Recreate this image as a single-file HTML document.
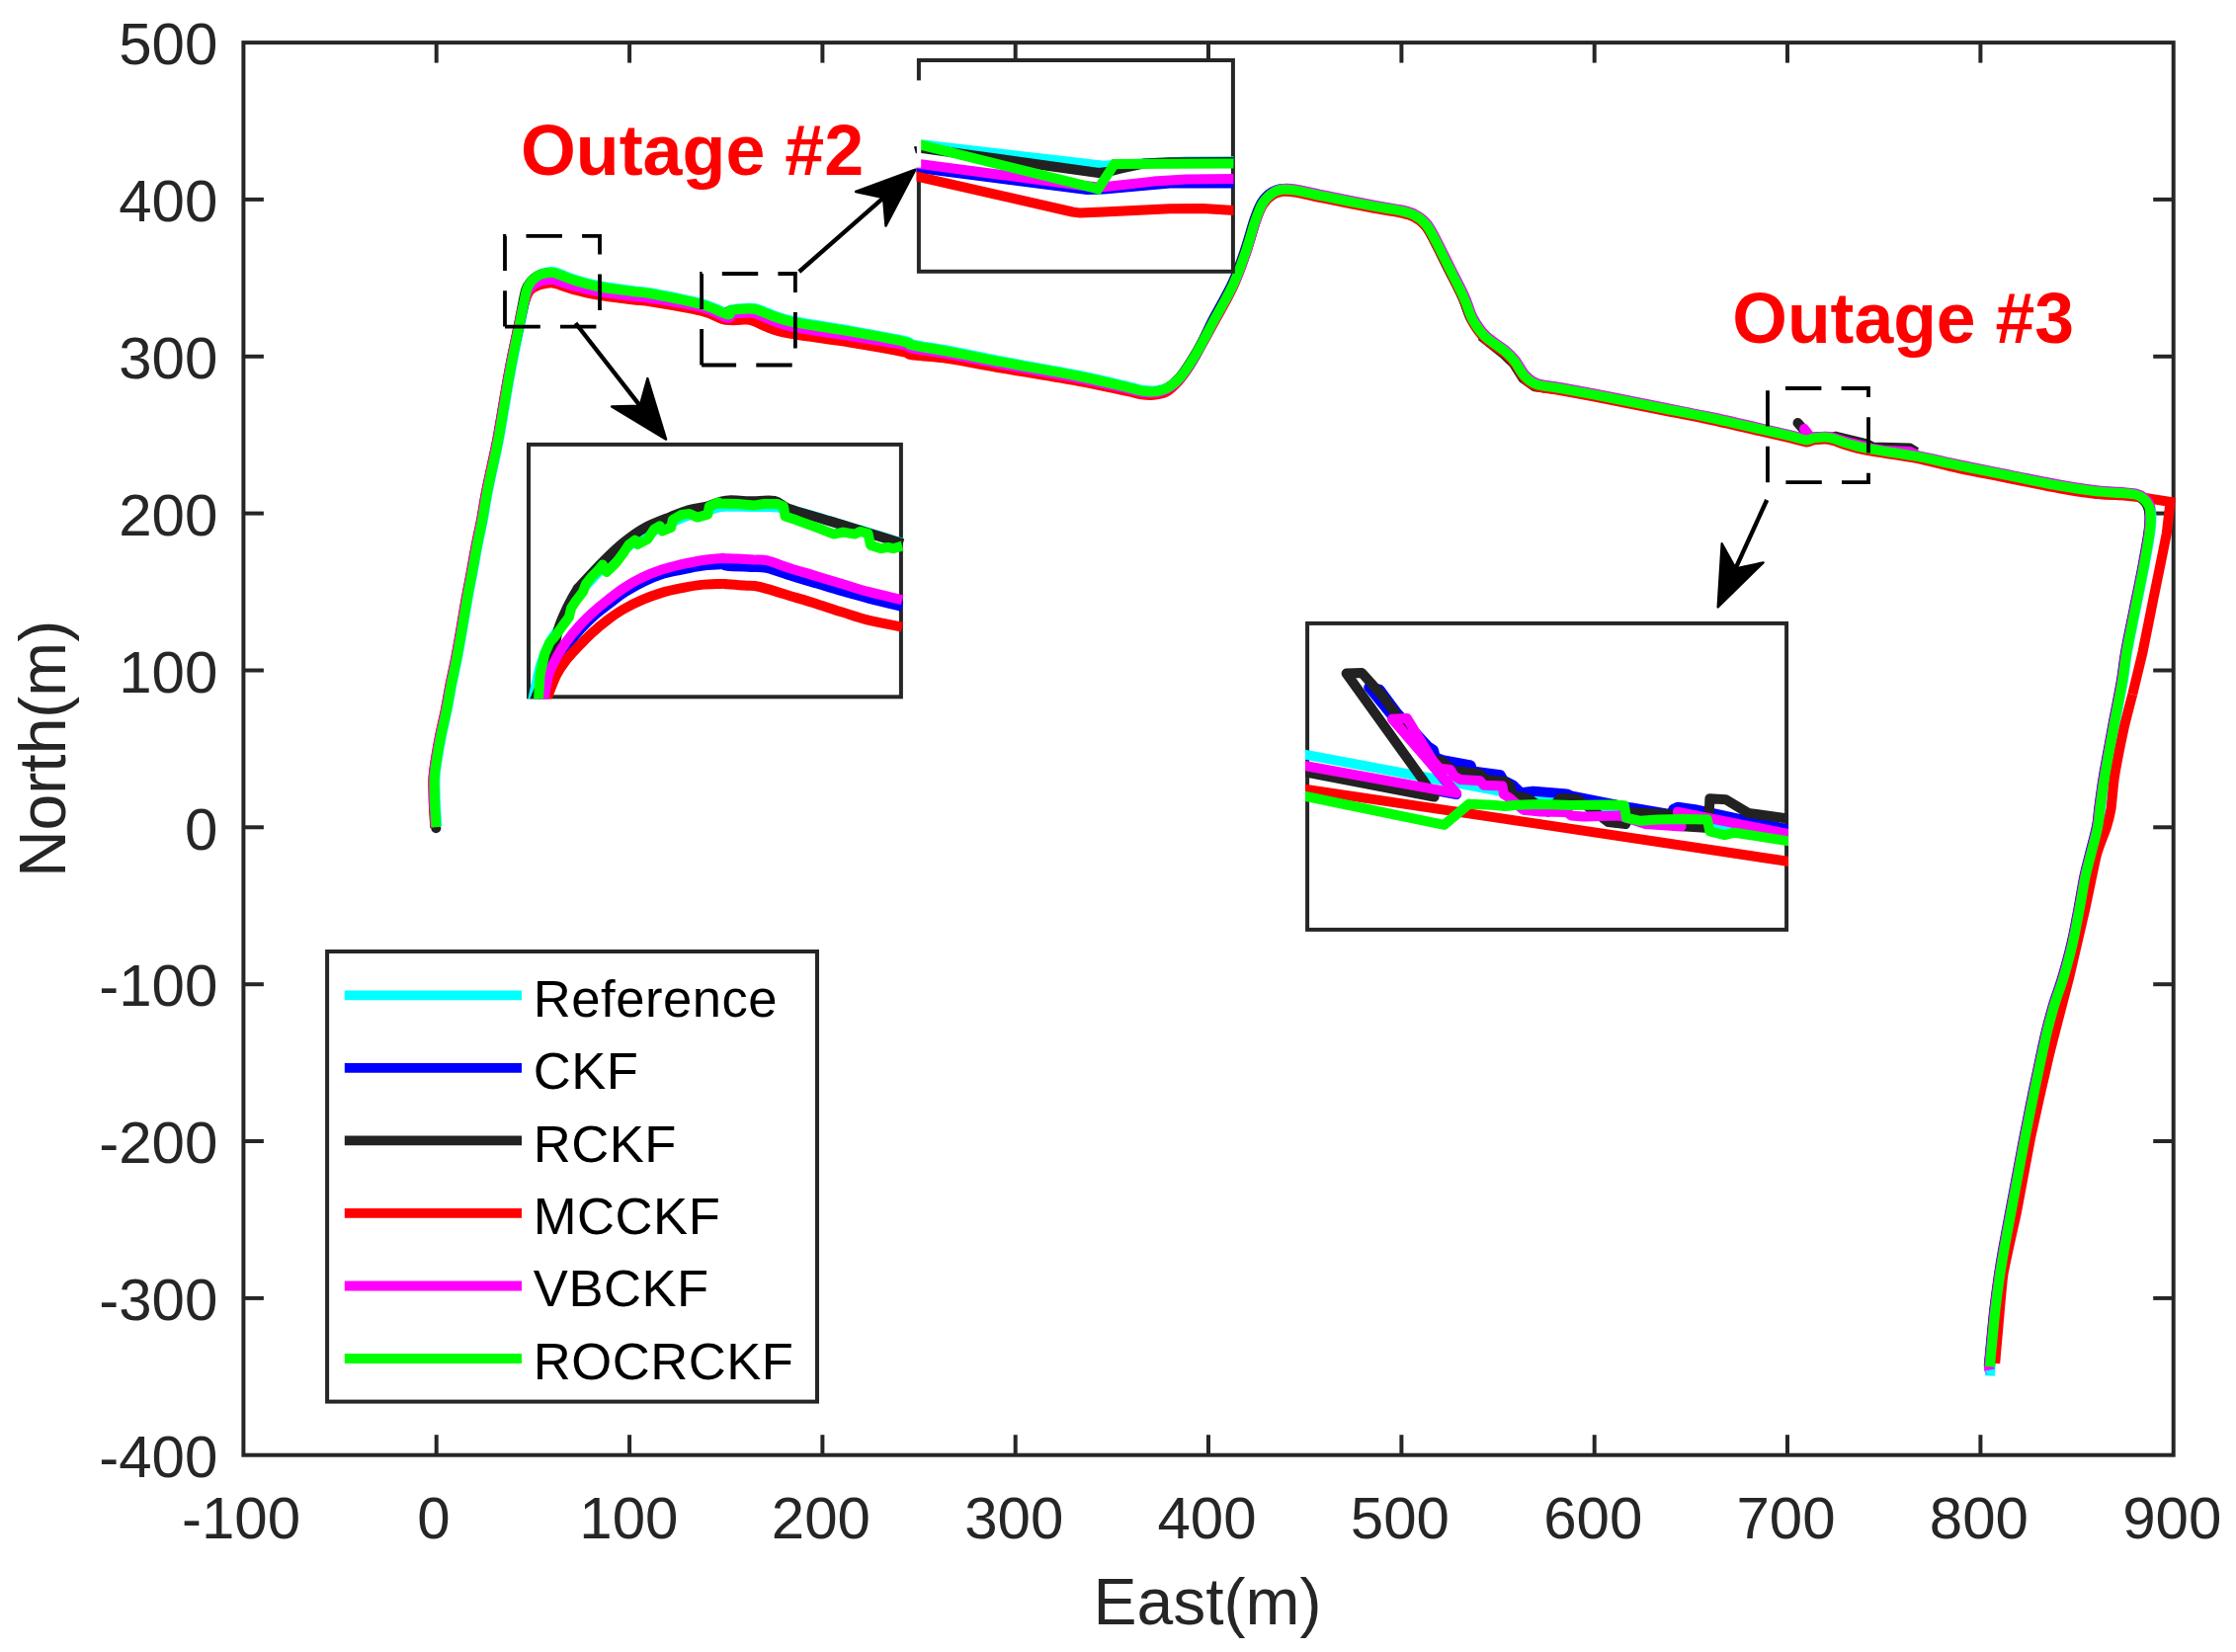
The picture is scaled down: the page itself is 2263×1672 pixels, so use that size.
<!DOCTYPE html>
<html lang="en"><head><meta charset="utf-8"><title>Trajectory comparison</title>
<style>html,body{margin:0;padding:0;background:#fff;}body{width:2263px;height:1672px;overflow:hidden;}svg{display:block;font-family:"Liberation Sans", Arial, Helvetica, sans-serif;}</style>
</head><body>
<svg width="2263" height="1672" viewBox="0 0 2263 1672">
<rect x="0" y="0" width="2263" height="1672" fill="#fff"/>
<g id="axes">
<rect x="246.4" y="43.1" width="1953.3" height="1429.6" fill="none" stroke="#262626" stroke-width="4"/>
<line x1="441.7" y1="1472.7" x2="441.7" y2="1452.2" stroke="#262626" stroke-width="4" stroke-linecap="butt"/>
<line x1="441.7" y1="43.1" x2="441.7" y2="63.6" stroke="#262626" stroke-width="4" stroke-linecap="butt"/>
<line x1="637.1" y1="1472.7" x2="637.1" y2="1452.2" stroke="#262626" stroke-width="4" stroke-linecap="butt"/>
<line x1="637.1" y1="43.1" x2="637.1" y2="63.6" stroke="#262626" stroke-width="4" stroke-linecap="butt"/>
<line x1="832.4" y1="1472.7" x2="832.4" y2="1452.2" stroke="#262626" stroke-width="4" stroke-linecap="butt"/>
<line x1="832.4" y1="43.1" x2="832.4" y2="63.6" stroke="#262626" stroke-width="4" stroke-linecap="butt"/>
<line x1="1027.7" y1="1472.7" x2="1027.7" y2="1452.2" stroke="#262626" stroke-width="4" stroke-linecap="butt"/>
<line x1="1027.7" y1="43.1" x2="1027.7" y2="63.6" stroke="#262626" stroke-width="4" stroke-linecap="butt"/>
<line x1="1223" y1="1472.7" x2="1223" y2="1452.2" stroke="#262626" stroke-width="4" stroke-linecap="butt"/>
<line x1="1223" y1="43.1" x2="1223" y2="63.6" stroke="#262626" stroke-width="4" stroke-linecap="butt"/>
<line x1="1418.4" y1="1472.7" x2="1418.4" y2="1452.2" stroke="#262626" stroke-width="4" stroke-linecap="butt"/>
<line x1="1418.4" y1="43.1" x2="1418.4" y2="63.6" stroke="#262626" stroke-width="4" stroke-linecap="butt"/>
<line x1="1613.7" y1="1472.7" x2="1613.7" y2="1452.2" stroke="#262626" stroke-width="4" stroke-linecap="butt"/>
<line x1="1613.7" y1="43.1" x2="1613.7" y2="63.6" stroke="#262626" stroke-width="4" stroke-linecap="butt"/>
<line x1="1809" y1="1472.7" x2="1809" y2="1452.2" stroke="#262626" stroke-width="4" stroke-linecap="butt"/>
<line x1="1809" y1="43.1" x2="1809" y2="63.6" stroke="#262626" stroke-width="4" stroke-linecap="butt"/>
<line x1="2004.4" y1="1472.7" x2="2004.4" y2="1452.2" stroke="#262626" stroke-width="4" stroke-linecap="butt"/>
<line x1="2004.4" y1="43.1" x2="2004.4" y2="63.6" stroke="#262626" stroke-width="4" stroke-linecap="butt"/>
<line x1="246.4" y1="1313.9" x2="266.9" y2="1313.9" stroke="#262626" stroke-width="4" stroke-linecap="butt"/>
<line x1="2199.7" y1="1313.9" x2="2179.2" y2="1313.9" stroke="#262626" stroke-width="4" stroke-linecap="butt"/>
<line x1="246.4" y1="1155" x2="266.9" y2="1155" stroke="#262626" stroke-width="4" stroke-linecap="butt"/>
<line x1="2199.7" y1="1155" x2="2179.2" y2="1155" stroke="#262626" stroke-width="4" stroke-linecap="butt"/>
<line x1="246.4" y1="996.2" x2="266.9" y2="996.2" stroke="#262626" stroke-width="4" stroke-linecap="butt"/>
<line x1="2199.7" y1="996.2" x2="2179.2" y2="996.2" stroke="#262626" stroke-width="4" stroke-linecap="butt"/>
<line x1="246.4" y1="837.3" x2="266.9" y2="837.3" stroke="#262626" stroke-width="4" stroke-linecap="butt"/>
<line x1="2199.7" y1="837.3" x2="2179.2" y2="837.3" stroke="#262626" stroke-width="4" stroke-linecap="butt"/>
<line x1="246.4" y1="678.5" x2="266.9" y2="678.5" stroke="#262626" stroke-width="4" stroke-linecap="butt"/>
<line x1="2199.7" y1="678.5" x2="2179.2" y2="678.5" stroke="#262626" stroke-width="4" stroke-linecap="butt"/>
<line x1="246.4" y1="519.6" x2="266.9" y2="519.6" stroke="#262626" stroke-width="4" stroke-linecap="butt"/>
<line x1="2199.7" y1="519.6" x2="2179.2" y2="519.6" stroke="#262626" stroke-width="4" stroke-linecap="butt"/>
<line x1="246.4" y1="360.8" x2="266.9" y2="360.8" stroke="#262626" stroke-width="4" stroke-linecap="butt"/>
<line x1="2199.7" y1="360.8" x2="2179.2" y2="360.8" stroke="#262626" stroke-width="4" stroke-linecap="butt"/>
<line x1="246.4" y1="201.9" x2="266.9" y2="201.9" stroke="#262626" stroke-width="4" stroke-linecap="butt"/>
<line x1="2199.7" y1="201.9" x2="2179.2" y2="201.9" stroke="#262626" stroke-width="4" stroke-linecap="butt"/>
</g>
<g id="main-curves">
<path d="M442.2 836.3 C442.1 834.5 441.8 829.6 441.6 825.6 C441.4 821.6 441 816.7 440.8 812.3 C440.6 807.9 440.6 803.4 440.5 799 C440.4 794.6 440.2 790.1 440.5 785.7 C440.8 781.3 441.1 779.1 442.1 772.4 C443.1 765.7 445 754.6 446.7 745.7 C448.4 736.8 450.7 728 452.5 719.1 C454.3 710.2 455.7 701.4 457.4 692.5 C459.2 683.6 461.3 674.7 463 665.8 C464.7 656.9 466.1 649.2 467.8 639.2 C469.6 629.2 471.7 615.6 473.5 605.6 C475.3 595.6 477 587.9 478.6 579 C480.2 570.1 481.7 561.3 483.4 552.4 C485.1 543.5 487.2 534.6 488.9 525.7 C490.6 516.8 491.8 508 493.5 499.1 C495.2 490.2 497.2 481.4 499.1 472.5 C501 463.6 503 455.4 504.8 445.8 C506.6 436.2 508.3 425.8 510.1 415.2 C511.9 404.6 513.9 392.3 515.7 382.4 C517.5 372.5 519 364.6 520.8 355.7 C522.6 346.8 524.7 336.9 526.3 329.1 C527.9 321.3 529 315.3 530.3 309.1 C531.6 302.9 532.7 296 534.1 291.8 C535.5 287.6 536.7 286.1 538.7 283.8 C540.7 281.5 543.5 279.2 546.1 277.8 C548.6 276.4 551.6 275.8 554 275.4 C556.4 275 558.5 274.9 560.7 275.2 C562.9 275.5 564.1 276.2 567.4 277.4 C570.7 278.6 574.3 280.5 580.7 282.5 C587.1 284.5 596 287.2 606 289.2 C616 291.1 631.5 292.9 640.6 294.2 C649.7 295.4 649.2 294.5 660.8 296.7 C672.4 298.9 697.6 303.7 710.4 307.2 C723.1 310.7 732.4 316.4 737.3 317.5 C742.2 318.6 737.1 314.4 740 313.5 C742.9 312.6 750.4 312.1 754.7 311.9 C758.9 311.7 761 311.3 765.5 312.4 C770 313.5 775.3 316.5 781.6 318.6 C787.8 320.7 789.6 322.3 803 325 C816.4 327.7 843.3 331.6 862.1 334.9 C880.9 338.2 905.4 342.7 915.7 345 C926 347.3 916.3 346.9 923.8 348.6 C931.3 350.3 945.4 352.1 960.8 355 C976.2 357.9 994.2 361.8 1016 365.9 C1037.7 370.1 1070.3 375.5 1091.1 379.7 C1112 383.9 1130.4 388.5 1141.3 391 C1152.1 393.5 1151.3 394 1156.3 394.8 C1161.3 395.5 1166.7 395.9 1171.3 395.3 C1175.9 394.6 1179.7 393.6 1183.8 391 C1188 388.4 1191.8 385.4 1196.4 379.7 C1201 374.1 1206 366.4 1211.4 357.2 C1216.8 348 1222.7 336.3 1228.9 324.6 C1235.2 312.9 1243.6 298.7 1249 287 C1254.4 275.3 1257.8 265.3 1261.5 254.4 C1265.3 243.6 1268.6 230.2 1271.5 221.9 C1274.5 213.5 1276.1 208.9 1279.1 204.3 C1282 199.7 1285.7 196.5 1289.1 194.3 C1292.4 192.1 1295.3 191.5 1299.1 191 C1302.9 190.6 1304.5 190.6 1311.6 191.8 C1318.7 193 1328.3 195.3 1341.7 198.1 C1355.1 200.8 1379.3 205.7 1391.8 208.1 C1404.3 210.5 1410.2 210.9 1416.9 212.3 C1423.6 213.8 1427.3 214.4 1431.9 216.9 C1436.5 219.3 1440.7 222.3 1444.4 226.9 C1448.2 231.5 1450.7 237.3 1454.5 244.4 C1458.2 251.5 1462.4 260.3 1467 269.5 C1471.6 278.7 1478 290.8 1482 299.5 C1486 308.3 1487.3 315.2 1490.8 321.9 C1494.4 328.5 1497.9 334 1503.4 339.4 C1508.8 344.8 1518.4 350.3 1523.4 354.4 C1528.4 358.6 1530.1 360.3 1533.4 364.5 C1536.8 368.6 1539.7 375.5 1543.4 379.5 C1547.2 383.5 1549.7 386.1 1556 388.3 C1562.2 390.4 1568.5 390.2 1581 392.5 C1593.6 394.8 1614.4 398.8 1631.1 402 C1647.8 405.3 1664.5 408.7 1681.3 412.1 C1698 415.4 1714.7 418.5 1731.4 422.1 C1748.1 425.6 1767.7 430.2 1781.5 433.4 C1795.3 436.5 1806.1 439 1814 440.9 C1822 442.8 1825.3 444.3 1829.1 444.6 C1832.8 444.9 1832.8 443.1 1836.6 442.6 C1840.4 442.2 1845.8 441.2 1851.6 442.1 C1857.5 443.1 1865 446.5 1871.7 448.4 C1878.4 450.3 1880.4 451.3 1891.7 453.4 C1903 455.5 1924 458.1 1939.3 460.9 C1954.6 463.8 1967.6 467.3 1983.6 470.6 C1999.5 473.9 2017.8 477.4 2035 480.9 C2052.1 484.3 2072.1 488.6 2086.3 491.1 C2100.6 493.7 2110.3 495.1 2120.6 496.3 C2130.9 497.5 2141.2 497.8 2148 498.3 C2154.9 498.9 2158 498.8 2161.7 499.7 C2165.4 500.6 2167.9 502 2170.3 504 C2172.6 506 2174.6 508.7 2175.8 511.7 C2177 514.7 2177.4 517.4 2177.5 522 C2177.6 526.5 2177.5 530.5 2176.3 539.1 C2175.1 547.7 2172.7 560.5 2170.3 573.4 C2167.9 586.2 2164.6 601.9 2161.7 616.2 C2158.9 630.5 2155.3 646.8 2153.2 659 C2151 671.2 2151 676.5 2148.8 689.2 C2146.6 701.9 2143 719.1 2140 735.2 C2137.1 751.3 2133.1 772 2130.8 785.8 C2128.5 799.6 2127.4 809.6 2126.2 818 C2125.1 826.5 2125.5 828.8 2123.9 836.4 C2122.4 844.1 2119.1 855.6 2117 864 C2114.9 872.5 2113.2 877.8 2111.3 887 C2109.4 896.2 2107.6 908.1 2105.5 919.2 C2103.4 930.4 2101.3 942.2 2098.6 953.8 C2096 965.3 2092.5 977.9 2089.4 988.3 C2086.4 998.6 2082.9 1007 2080.2 1015.9 C2077.6 1024.7 2075.2 1033.9 2073.3 1041.2 C2071.5 1048.4 2071.5 1048.5 2069.2 1059.2 C2066.9 1069.9 2062.7 1089.9 2059.5 1105.2 C2056.4 1120.5 2053 1137.4 2050.3 1151.2 C2047.6 1165 2045.7 1175.8 2043.4 1188 C2041.1 1200.3 2038.8 1212.6 2036.5 1224.8 C2034.2 1237.1 2031.5 1250.9 2029.6 1261.6 C2027.7 1272.4 2026.6 1278.9 2025 1289.2 C2023.5 1299.6 2021.8 1312.2 2020.4 1323.8 C2019.1 1335.3 2017.9 1348.5 2017 1358.3 C2016 1368 2015.2 1376.7 2014.7 1382.4 C2014.2 1388.1 2014 1390.8 2013.9 1392.5" fill="none" stroke="#00ffff" stroke-width="10" stroke-linejoin="round" stroke-linecap="butt"/>
<path d="M440.8 837.4 C440.7 835.6 440.4 830.7 440.2 826.7 C440 822.7 439.6 817.8 439.4 813.4 C439.2 809 439.1 804.5 439.1 800.1 C439 795.7 438.8 791.2 439.1 786.8 C439.4 782.4 439.7 780.2 440.7 773.5 C441.7 766.9 443.6 755.7 445.3 746.8 C447 738 449.3 729.1 451.1 720.3 C452.9 711.4 454.2 702.6 456 693.7 C457.8 684.9 459.9 675.9 461.6 667.1 C463.3 658.2 464.6 650.5 466.4 640.5 C468.1 630.5 470.3 617 472.1 607 C473.9 596.9 475.5 589.2 477.2 580.4 C478.9 571.5 480.3 562.7 482 553.8 C483.7 545 485.8 536 487.5 527.2 C489.2 518.3 490.4 509.5 492.1 500.6 C493.8 491.8 495.8 482.9 497.7 474.1 C499.6 465.2 501.6 456.9 503.4 447.4 C505.2 437.9 506.9 427.4 508.7 416.8 C510.5 406.3 512.5 394 514.3 384.1 C516.1 374.2 517.6 366 519.4 357.4 C521.2 348.9 523.3 339.9 524.9 332.7 C526.5 325.4 527.5 319.8 528.9 314 C530.3 308.2 531.8 301.8 533.3 298 C534.8 294.2 535.9 293.1 537.9 291.3 C539.9 289.6 542.8 288.4 545.3 287.4 C547.8 286.4 550.8 285.8 553.2 285.5 C555.6 285.1 557.7 284.9 559.9 285.2 C562.1 285.4 563.3 285.9 566.6 286.9 C569.9 287.9 573.5 289.5 579.9 291.1 C586.3 292.8 595.2 295.1 605.2 296.8 C615.2 298.5 630.7 300.3 639.8 301.4 C648.9 302.5 648.4 301.9 660 303.7 C671.6 305.4 696.9 308.9 709.6 312.1 C722.4 315.3 731.6 321.7 736.5 322.9 C741.4 324 736.3 319.8 739.2 319 C742.1 318.2 749.6 318.1 753.9 318 C758.1 318 760.2 317.6 764.7 318.8 C769.2 320 774.5 323.2 780.8 325.4 C787 327.7 788.8 329.6 802.2 332.3 C815.6 335 842.5 338.7 861.3 341.6 C880.1 344.6 904.6 348.1 914.9 350.1 C925.2 352.1 915.5 352 923 353.5 C930.5 355.1 944.6 356.5 960 359.2 C975.4 362 993.4 365.9 1015.2 369.9 C1036.9 373.9 1069.5 379.3 1090.3 383.3 C1111.2 387.4 1129.6 391.7 1140.5 394.1 C1151.3 396.5 1150.5 397.1 1155.5 397.7 C1160.5 398.4 1165.9 398.6 1170.5 397.9 C1175.1 397.2 1178.9 396.1 1183 393.4 C1187.2 390.7 1191 387.6 1195.6 381.8 C1200.2 376.1 1205.4 368.5 1210.6 359 C1215.8 349.5 1220.9 336.8 1226.9 324.8 C1233 312.8 1241.6 298.9 1247 287.2 C1252.4 275.5 1255.8 265.5 1259.5 254.6 C1263.3 243.8 1266.6 230.4 1269.5 222.1 C1272.5 213.7 1274.1 209.1 1277.1 204.5 C1280 199.9 1283.7 196.7 1287.1 194.5 C1290.4 192.3 1293.3 191.7 1297.1 191.2 C1300.9 190.8 1302.5 190.8 1309.6 192 C1316.7 193.2 1326.3 195.5 1339.7 198.3 C1353.1 201 1377.3 205.9 1389.8 208.3 C1402.3 210.7 1408.2 211.1 1414.9 212.5 C1421.6 214 1425.3 214.6 1429.9 217.1 C1434.5 219.5 1438.7 222.5 1442.4 227.1 C1446.2 231.7 1448.7 237.5 1452.5 244.6 C1456.2 251.7 1460.4 260.5 1465 269.7 C1469.6 278.9 1476 291 1480 299.7 C1484 308.5 1485.3 315.4 1488.8 322.1 C1492.4 328.7 1495.9 334.2 1501.4 339.6 C1506.8 345 1516.4 350.5 1521.4 354.6 C1526.4 358.8 1528.1 360.5 1531.4 364.7 C1534.8 368.8 1537.7 375.7 1541.4 379.7 C1545.2 383.7 1547.7 386.3 1554 388.5 C1560.2 390.6 1566.5 390.4 1579 392.7 C1591.6 395 1612.4 399 1629.1 402.2 C1645.8 405.5 1662.5 408.9 1679.3 412.3 C1696 415.6 1712.7 418.7 1729.4 422.3 C1746.1 425.8 1765.7 430.4 1779.5 433.6 C1793.3 436.7 1804.1 439.2 1812 441.1 C1820 443 1823.3 444.5 1827.1 444.8 C1830.8 445.1 1830.8 443.3 1834.6 442.8 C1838.4 442.4 1843.8 441.4 1849.6 442.3 C1855.5 443.3 1863 446.7 1869.7 448.6 C1876.4 450.5 1878.4 451.5 1889.7 453.6 C1901 455.7 1922 458.3 1937.3 461.1 C1952.6 464 1965.6 467.5 1981.6 470.8 C1997.5 474.1 2015.8 477.6 2033 481.1 C2050.1 484.5 2070.1 488.8 2084.3 491.3 C2098.6 493.9 2108.3 495.3 2118.6 496.5 C2128.9 497.7 2139.2 498 2146 498.5 C2152.9 499.1 2156 499 2159.7 499.9 C2163.4 500.8 2165.9 502.2 2168.3 504.2 C2170.6 506.2 2172.6 508.9 2173.8 511.9 C2175 514.9 2175.4 517.6 2175.5 522.2 C2175.6 526.7 2175.5 530.7 2174.3 539.3 C2173.1 547.9 2170.7 560.7 2168.3 573.6 C2165.9 586.4 2162.6 602.1 2159.7 616.4 C2156.9 630.7 2153.3 647 2151.2 659.2 C2149 671.4 2149 676.7 2146.8 689.4 C2144.6 702.1 2141 719.3 2138 735.4 C2135.1 751.5 2131.1 772.2 2128.8 786 C2126.5 799.8 2125.4 809.8 2124.2 818.2 C2123.1 826.7 2123.5 829 2121.9 836.6 C2120.4 844.3 2117.1 855.8 2115 864.2 C2112.9 872.7 2111.2 878 2109.3 887.2 C2107.4 896.4 2105.6 908.3 2103.5 919.4 C2101.4 930.6 2099.3 942.4 2096.6 954 C2094 965.5 2090.5 978.1 2087.4 988.5 C2084.4 998.8 2080.9 1007.2 2078.2 1016.1 C2075.6 1024.9 2073.2 1034.1 2071.3 1041.4 C2069.5 1048.6 2069.5 1048.7 2067.2 1059.4 C2064.9 1070.1 2060.7 1090.1 2057.5 1105.4 C2054.4 1120.7 2051 1137.6 2048.3 1151.4 C2045.6 1165.2 2043.7 1176 2041.4 1188.2 C2039.1 1200.5 2036.8 1212.8 2034.5 1225 C2032.2 1237.3 2029.5 1251.1 2027.6 1261.8 C2025.7 1272.6 2024.6 1279.1 2023 1289.4 C2021.5 1299.8 2019.8 1312.4 2018.4 1324 C2017.1 1335.5 2015.9 1348.7 2015 1358.5 C2014 1368.2 2013.1 1378.6 2012.7 1382.6" fill="none" stroke="#0000ff" stroke-width="10" stroke-linejoin="round" stroke-linecap="butt"/>
<path d="M440.4 837.7 C440.3 835.9 440 831 439.8 827 C439.6 823 439.2 818.1 439 813.7 C438.8 809.3 438.8 804.8 438.7 800.4 C438.6 796 438.4 791.5 438.7 787.1 C439 782.7 439.3 780.5 440.3 773.8 C441.3 767.1 443.2 756 444.9 747.1 C446.6 738.2 448.9 729.4 450.7 720.5 C452.5 711.6 453.9 702.8 455.6 693.9 C457.4 685 459.5 676.1 461.2 667.2 C462.9 658.3 464.2 650.6 466 640.6 C467.8 630.6 469.9 617 471.7 607 C473.5 597 475.1 589.3 476.8 580.4 C478.5 571.5 479.9 562.7 481.6 553.8 C483.3 544.9 485.4 536 487.1 527.1 C488.8 518.2 490 509.4 491.7 500.5 C493.4 491.6 495.4 482.8 497.3 473.9 C499.2 465 501.2 456.8 503 447.2 C504.8 437.7 506.5 427.2 508.3 416.6 C510.1 406 512.1 393.7 513.9 383.8 C515.7 373.9 517.2 366 519 357.1 C520.8 348.2 522.9 338.3 524.5 330.5 C526.1 322.7 527.2 316.7 528.5 310.5 C529.8 304.3 530.9 297.4 532.3 293.2 C533.7 289 534.9 287.5 536.9 285.2 C538.9 282.9 541.8 280.6 544.3 279.2 C546.8 277.8 549.8 277.2 552.2 276.8 C554.6 276.4 556.7 276.3 558.9 276.6 C561.1 276.9 562.3 277.6 565.6 278.8 C568.9 280 572.5 281.9 578.9 283.9 C585.3 285.9 594.2 288.7 604.2 290.6 C614.2 292.6 629.7 294.4 638.8 295.6 C647.9 296.9 647.4 295.9 659 298.1 C670.6 300.3 695.9 305.1 708.6 308.6 C721.4 312.1 730.6 317.9 735.5 318.9 C740.4 320 735.3 315.8 738.2 314.9 C741.1 314 748.6 313.5 752.9 313.3 C757.1 313.1 759.2 312.7 763.7 313.8 C768.2 314.9 773.5 317.9 779.8 320 C786 322.1 787.8 323.7 801.2 326.4 C814.6 329.1 841.5 333 860.3 336.3 C879.1 339.6 903.6 344.1 913.9 346.4 C924.2 348.7 914.5 348.3 922 350 C929.5 351.7 943.6 353.5 959 356.4 C974.4 359.3 992.4 363.2 1014.2 367.3 C1035.9 371.5 1068.5 376.9 1089.3 381.1 C1110.2 385.3 1128.6 389.9 1139.5 392.4 C1150.3 394.9 1149.5 395.4 1154.5 396.2 C1159.5 396.9 1164.9 397.3 1169.5 396.7 C1174.1 396 1177.9 395 1182 392.4 C1186.2 389.8 1190 386.8 1194.6 381.1 C1199.2 375.5 1204.2 367.8 1209.6 358.6 C1215 349.4 1220.9 337.7 1227.1 326 C1233.4 314.3 1241.8 300.1 1247.2 288.4 C1252.6 276.7 1256 266.7 1259.7 255.8 C1263.5 245 1266.8 231.6 1269.7 223.3 C1272.7 214.9 1274.3 210.3 1277.3 205.7 C1280.2 201.1 1283.9 197.9 1287.3 195.7 C1290.6 193.5 1293.5 192.9 1297.3 192.4 C1301.1 192 1302.7 192 1309.8 193.2 C1316.9 194.4 1326.5 196.7 1339.9 199.5 C1353.3 202.2 1377.5 207.1 1390 209.5 C1402.5 211.9 1408.4 212.3 1415.1 213.7 C1421.8 215.2 1425.5 215.8 1430.1 218.3 C1434.7 220.7 1438.9 223.7 1442.6 228.3 C1446.4 232.9 1448.9 238.7 1452.7 245.8 C1456.4 252.9 1460.6 261.7 1465.2 270.9 C1469.8 280.1 1476.2 292.2 1480.2 300.9 C1484.2 309.7 1485.5 316.6 1489 323.3 C1492.6 329.9 1496.1 335.4 1501.6 340.8 C1507 346.2 1516.6 351.7 1521.6 355.8 C1526.6 360 1528.3 361.7 1531.6 365.9 C1535 370 1537.9 376.9 1541.6 380.9 C1545.4 384.9 1547.9 387.5 1554.2 389.7 C1560.4 391.8 1566.7 391.6 1579.2 393.9 C1591.8 396.2 1612.6 400.2 1629.3 403.4 C1646 406.7 1662.7 410.1 1679.5 413.5 C1696.2 416.8 1712.9 419.9 1729.6 423.5 C1746.3 427 1765.9 431.6 1779.7 434.8 C1793.5 437.9 1804.3 440.4 1812.2 442.3 C1820.2 444.2 1823.5 445.7 1827.3 446 C1831 446.3 1831 444.5 1834.8 444 C1838.6 443.6 1844 442.6 1849.8 443.5 C1855.7 444.5 1863.2 447.9 1869.9 449.8 C1876.6 451.7 1878.6 452.7 1889.9 454.8 C1901.2 456.9 1922.2 459.5 1937.5 462.3 C1952.8 465.2 1965.8 468.7 1981.8 472 C1997.7 475.3 2016 478.8 2033.2 482.3 C2050.3 485.7 2070.3 490 2084.5 492.5 C2098.8 495.1 2108.5 496.5 2118.8 497.7 C2129.1 498.9 2139.4 499.2 2146.2 499.7 C2153.1 500.3 2156.2 500.2 2159.9 501.1 C2163.6 502 2166.1 503.4 2168.5 505.4 C2170.8 507.4 2172.8 510.1 2174 513.1 C2175.2 516.1 2175.6 518.8 2175.7 523.4 C2175.8 527.9 2175.7 531.9 2174.5 540.5 C2173.3 549.1 2170.9 561.9 2168.5 574.8 C2166.1 587.6 2162.8 603.3 2159.9 617.6 C2157.1 631.9 2153.5 648.2 2151.4 660.4 C2149.2 672.6 2149.2 677.9 2147 690.6 C2144.8 703.3 2141.2 720.5 2138.2 736.6 C2135.3 752.7 2131.3 773.4 2129 787.2 C2126.7 801 2125.6 811 2124.4 819.4 C2123.3 827.9 2123.7 830.2 2122.1 837.8 C2120.6 845.5 2117.3 857 2115.2 865.4 C2113.1 873.9 2111.4 879.2 2109.5 888.4 C2107.6 897.6 2105.8 909.5 2103.7 920.6 C2101.6 931.8 2099.5 943.6 2096.8 955.2 C2094.2 966.7 2090.7 979.3 2087.6 989.7 C2084.6 1000 2081.1 1008.4 2078.4 1017.3 C2075.8 1026.1 2073.4 1035.3 2071.5 1042.6 C2069.7 1049.8 2069.7 1049.9 2067.4 1060.6 C2065.1 1071.3 2060.9 1091.3 2057.7 1106.6 C2054.6 1121.9 2051.2 1138.8 2048.5 1152.6 C2045.8 1166.4 2043.9 1177.2 2041.6 1189.4 C2039.3 1201.7 2037 1214 2034.7 1226.2 C2032.4 1238.5 2029.7 1252.3 2027.8 1263 C2025.9 1273.8 2024.8 1280.3 2023.2 1290.6 C2021.7 1301 2020 1313.6 2018.6 1325.2 C2017.3 1336.7 2016.1 1349.9 2015.2 1359.7 C2014.2 1369.4 2013.3 1379.8 2012.9 1383.8" fill="none" stroke="#222222" stroke-width="10" stroke-linejoin="round" stroke-linecap="butt"/>
<circle cx="441.3" cy="838.2" r="5" fill="#222222"/>
<path d="M1819.5 428 L1829 439" fill="none" stroke="#222222" stroke-width="10" stroke-linejoin="round" stroke-linecap="round"/>
<path d="M1852 440 L1858 438.6 L1891 446.7 L1896 449.5 L1933.5 450.6 L1941 455" fill="none" stroke="#222222" stroke-width="4" stroke-linejoin="round" stroke-linecap="butt"/>
<path d="M1499 340 L1521 357.5 L1532 368 L1541.5 383 L1553 391.3 L1576 394" fill="none" stroke="#222222" stroke-width="10" stroke-linejoin="round" stroke-linecap="butt"/>
<path d="M440.2 837.1 C440.1 835.3 439.8 830.4 439.6 826.4 C439.4 822.4 439 817.5 438.8 813.1 C438.6 808.7 438.6 804.2 438.5 799.8 C438.4 795.4 438.2 790.9 438.5 786.5 C438.8 782.1 439.1 779.9 440.1 773.2 C441.1 766.5 443 755.4 444.7 746.5 C446.4 737.6 448.7 728.8 450.5 719.9 C452.3 711 453.7 702.2 455.4 693.3 C457.2 684.4 459.3 675.5 461 666.6 C462.7 657.7 464.1 650 465.8 640 C467.6 630 469.7 616.4 471.5 606.4 C473.3 596.4 475 588.7 476.6 579.8 C478.2 570.9 479.7 562.1 481.4 553.2 C483.1 544.3 485.2 535.4 486.9 526.5 C488.6 517.6 489.8 508.8 491.5 499.9 C493.2 491 495.2 482.1 497.1 473.3 C499 464.5 501 456.3 502.8 446.8 C504.6 437.3 506.3 426.9 508.1 416.5 C509.9 406 511.9 393.8 513.7 383.9 C515.5 374.1 517 366.1 518.8 357.5 C520.6 348.9 522.7 339.7 524.3 332.5 C525.9 325.3 526.8 319.9 528.3 314.3 C529.8 308.7 531.7 302.7 533.3 299.1 C534.9 295.5 535.9 294.2 537.9 292.5 C539.9 290.7 542.8 289.6 545.3 288.6 C547.8 287.7 550.8 287.1 553.2 286.7 C555.6 286.4 557.7 286.2 559.9 286.5 C562.1 286.8 563.3 287.3 566.6 288.4 C569.9 289.4 573.5 291.1 579.9 292.8 C586.3 294.5 595.2 296.8 605.2 298.5 C615.2 300.2 630.7 302.1 639.8 303.3 C648.9 304.5 648.4 303.7 660 305.6 C671.6 307.5 697.8 311.9 709.6 314.7 C721.4 317.6 726.1 321.3 731 322.9 C735.9 324.5 736.5 323.9 739 324.1 C741.5 324.3 743.5 324.2 746 324.1 C748.5 324 751.3 323.3 754 323.4 C756.7 323.5 757.5 323.1 762 324.7 C766.5 326.3 774.1 330.5 780.8 332.8 C787.5 335 788.8 335.8 802.2 338.1 C815.6 340.4 842.5 343.8 861.3 346.8 C880.1 349.8 904.6 354.2 914.9 356.3 C925.2 358.4 915.5 358.2 923 359.3 C930.5 360.4 944.6 360.7 960 363 C975.4 365.3 993.4 369.1 1015.2 372.8 C1036.9 376.6 1069.5 381.7 1090.3 385.5 C1111.2 389.4 1129.6 393.6 1140.5 395.9 C1151.3 398.2 1150.5 398.7 1155.5 399.3 C1160.5 399.9 1165.9 400.2 1170.5 399.4 C1175.1 398.7 1178.9 397.7 1183 394.8 C1187.2 391.9 1191 388 1195.6 382.1 C1200.2 376.1 1205.2 368 1210.6 358.9 C1216 349.8 1221.9 338.9 1228.1 327.4 C1234.4 315.9 1242.8 301.5 1248.2 289.8 C1253.6 278.1 1257 268.1 1260.7 257.2 C1264.5 246.4 1267.8 233 1270.7 224.7 C1273.7 216.3 1275.3 211.7 1278.3 207.1 C1281.2 202.5 1284.9 199.3 1288.3 197.1 C1291.6 194.9 1294.5 194.3 1298.3 193.8 C1302.1 193.4 1303.7 193.4 1310.8 194.6 C1317.9 195.8 1327.5 198.1 1340.9 200.9 C1354.3 203.6 1378.5 208.5 1391 210.9 C1403.5 213.3 1409.4 213.7 1416.1 215.1 C1422.8 216.6 1426.5 217.2 1431.1 219.7 C1435.7 222.1 1439.9 225.1 1443.6 229.7 C1447.4 234.3 1449.9 240.1 1453.7 247.2 C1457.4 254.3 1461.6 263.1 1466.2 272.3 C1470.8 281.5 1477.2 293.6 1481.2 302.3 C1485.2 311.1 1486.5 318 1490 324.7 C1493.6 331.3 1497.1 336.8 1502.6 342.2 C1508 347.6 1517.6 353.1 1522.6 357.2 C1527.6 361.4 1529.3 363.1 1532.6 367.3 C1536 371.4 1538.9 378.3 1542.6 382.3 C1546.4 386.3 1548.9 388.9 1555.2 391.1 C1561.4 393.2 1567.7 393 1580.2 395.3 C1592.8 397.6 1613.6 401.6 1630.3 404.8 C1647 408.1 1663.7 411.5 1680.5 414.9 C1697.2 418.2 1713.9 421.3 1730.6 424.9 C1747.3 428.4 1766.9 433 1780.7 436.2 C1794.5 439.3 1805.3 441.8 1813.2 443.7 C1821.2 445.6 1824.5 447.1 1828.3 447.4 C1832 447.7 1832 445.9 1835.8 445.4 C1839.6 445 1845 444 1850.8 444.9 C1856.7 445.9 1864.2 449.3 1870.9 451.2 C1877.6 453.1 1879.6 454.1 1890.9 456.2 C1902.2 458.3 1923.2 460.8 1938.5 463.7 C1953.8 466.7 1966.8 470.6 1982.8 474 C1998.7 477.4 2017 480.8 2034.2 484.3 C2051.3 487.7 2071.3 492 2085.5 494.5 C2099.8 497.1 2109.5 498.6 2119.8 499.7 C2130.1 500.8 2142.6 500.9 2147.2 501.2" fill="none" stroke="#ff0000" stroke-width="10" stroke-linejoin="round" stroke-linecap="butt"/>
<path d="M2119.8 499.7 L2147.2 501.2 L2171.2 503.9 L2196.5 508 L2192.8 539.9 L2189.4 557 L2178.9 608.4 L2168.6 659.8 L2158.3 702.6" fill="none" stroke="#ff0000" stroke-width="10" stroke-linejoin="miter" stroke-linecap="butt"/>
<path d="M2158.3 702.6 C2157.6 705.4 2151.4 729 2149.8 736 C2148.3 743 2141 779.7 2139.9 786.6 C2138.8 793.5 2137.2 814.6 2136.5 818.8 C2135.8 823 2133.1 833.4 2131.9 837.2 C2130.7 841.1 2123.8 857.9 2122 864.8 C2120.2 871.7 2112.6 909.7 2110.3 920 C2107.9 930.4 2097.2 976.6 2094.2 989.1 C2091.1 1001.5 2076.7 1056 2073.5 1069.6 C2070.2 1083.2 2057.7 1139 2055 1152 C2052.4 1165 2043.5 1214.1 2041.2 1225.6 C2038.9 1237.1 2029.1 1278.9 2027.4 1290 C2025.8 1301.2 2021.7 1351.6 2021 1359.1 C2020.3 1366.5 2019.3 1378 2019.2 1379.8" fill="none" stroke="#ff0000" stroke-width="10" stroke-linejoin="round" stroke-linecap="butt"/>
<path d="M440.6 837.1 C440.5 835.3 440.2 830.4 440 826.4 C439.8 822.4 439.4 817.5 439.2 813.1 C439 808.7 438.9 804.2 438.9 799.8 C438.8 795.4 438.6 790.9 438.9 786.5 C439.2 782.1 439.5 779.9 440.5 773.2 C441.5 766.5 443.4 755.4 445.1 746.5 C446.8 737.7 449.1 728.8 450.9 720 C452.7 711.1 454.1 702.3 455.8 693.4 C457.6 684.5 459.7 675.6 461.4 666.7 C463.1 657.9 464.4 650.2 466.2 640.2 C467.9 630.1 470.1 616.6 471.9 606.6 C473.7 596.6 475.4 588.9 477 580 C478.6 571.2 480.1 562.3 481.8 553.5 C483.5 544.6 485.6 535.7 487.3 526.8 C489 517.9 490.2 509.1 491.9 500.2 C493.6 491.4 495.6 482.5 497.5 473.7 C499.4 464.8 501.4 456.5 503.2 447 C505 437.5 506.7 427 508.5 416.4 C510.3 405.9 512.3 393.6 514.1 383.7 C515.9 373.8 517.4 365.6 519.2 357 C521 348.4 523.1 339.2 524.7 331.9 C526.3 324.5 527.3 318.8 528.7 313 C530.1 307.1 531.8 300.5 533.3 296.7 C534.8 292.8 535.9 291.6 537.9 289.7 C539.9 287.9 542.8 286.5 545.3 285.4 C547.8 284.4 550.8 283.8 553.2 283.4 C555.6 283 557.7 282.8 559.9 283.1 C562.1 283.3 563.3 283.9 566.6 284.9 C569.9 286 573.5 287.6 579.9 289.3 C586.3 291 595.2 293.4 605.2 295.2 C615.2 297 630.7 298.7 639.8 299.9 C648.9 301 648.4 300.3 660 302.2 C671.6 304 696.9 307.8 709.6 311 C722.4 314.3 731.6 320.6 736.5 321.7 C741.4 322.8 736.3 318.6 739.2 317.8 C742.1 317 749.6 316.8 753.9 316.7 C758.1 316.7 760.2 316.2 764.7 317.4 C769.2 318.6 774.5 321.7 780.8 324 C787 326.2 788.8 328.1 802.2 330.8 C815.6 333.5 842.5 337.2 861.3 340.2 C880.1 343.2 904.6 347 914.9 349 C925.2 351 915.5 350.9 923 352.5 C930.5 354 944.6 355.5 960 358.3 C975.4 361.1 993.4 365 1015.2 369 C1036.9 373.1 1069.5 378.5 1090.3 382.5 C1111.2 386.6 1129.6 391 1140.5 393.4 C1151.3 395.8 1150.5 396.4 1155.5 397 C1160.5 397.7 1165.9 398 1170.5 397.3 C1175.1 396.6 1178.9 395.5 1183 392.8 C1187.2 390.2 1191 387.1 1195.6 381.3 C1200.2 375.6 1205 368 1210.6 358.5 C1216.2 349.1 1222.6 336.4 1229 324.5 C1235.5 312.6 1243.7 298.6 1249.1 286.9 C1254.5 275.2 1257.9 265.2 1261.6 254.3 C1265.4 243.5 1268.7 230.1 1271.6 221.8 C1274.6 213.4 1276.2 208.8 1279.2 204.2 C1282.1 199.6 1285.8 196.4 1289.2 194.2 C1292.5 192 1295.4 191.4 1299.2 190.9 C1303 190.5 1304.6 190.5 1311.7 191.7 C1318.8 192.9 1328.4 195.2 1341.8 198 C1355.2 200.7 1379.4 205.6 1391.9 208 C1404.4 210.4 1410.3 210.8 1417 212.2 C1423.7 213.7 1427.4 214.3 1432 216.8 C1436.6 219.2 1440.8 222.2 1444.5 226.8 C1448.3 231.4 1450.8 237.2 1454.6 244.3 C1458.3 251.4 1462.5 260.2 1467.1 269.4 C1471.7 278.6 1478.1 290.7 1482.1 299.4 C1486.1 308.2 1487.4 315.1 1490.9 321.8 C1494.5 328.4 1498 333.9 1503.5 339.3 C1508.9 344.7 1518.5 350.2 1523.5 354.3 C1528.5 358.5 1530.2 360.2 1533.5 364.4 C1536.9 368.5 1539.8 375.4 1543.5 379.4 C1547.3 383.4 1549.8 386 1556.1 388.2 C1562.3 390.3 1568.6 390.1 1581.1 392.4 C1593.7 394.7 1614.5 398.7 1631.2 401.9 C1647.9 405.2 1664.6 408.6 1681.4 412 C1698.1 415.3 1714.8 418.4 1731.5 422 C1748.2 425.5 1767.8 430.1 1781.6 433.3 C1795.4 436.4 1806.2 438.9 1814.1 440.8 C1822.1 442.7 1825.4 444.2 1829.2 444.5 C1832.9 444.8 1832.9 443 1836.7 442.5 C1840.5 442.1 1845.9 441.1 1851.7 442 C1857.6 443 1865.1 446.4 1871.8 448.3 C1878.5 450.2 1880.5 451.2 1891.8 453.3 C1903.1 455.4 1924.1 458 1939.4 460.8 C1954.7 463.7 1967.7 467.2 1983.7 470.5 C1999.6 473.8 2017.9 477.3 2035.1 480.8 C2052.2 484.2 2072.2 488.5 2086.4 491 C2100.7 493.6 2110.4 495 2120.7 496.2 C2131 497.4 2141.3 497.7 2148.1 498.2 C2155 498.8 2158.1 498.7 2161.8 499.6 C2165.5 500.5 2168 501.9 2170.4 503.9 C2172.7 505.9 2174.9 508.4 2175.9 511.6 C2176.8 514.8 2176.1 518.5 2175.9 523.3 C2175.7 528.1 2175.9 531.8 2174.7 540.4 C2173.5 549 2171.1 561.8 2168.7 574.7 C2166.3 587.5 2163 603.2 2160.1 617.5 C2157.3 631.8 2153.7 648.1 2151.6 660.3 C2149.4 672.5 2149.4 677.8 2147.2 690.5 C2145 703.2 2141.4 720.4 2138.4 736.5 C2135.5 752.6 2131.5 773.3 2129.2 787.1 C2126.9 800.9 2125.8 810.9 2124.6 819.3 C2123.5 827.8 2123.9 830.1 2122.3 837.7 C2120.8 845.4 2117.5 856.9 2115.4 865.3 C2113.3 873.8 2111.6 879.1 2109.7 888.3 C2107.8 897.5 2106 909.4 2103.9 920.5 C2101.8 931.7 2099.7 943.5 2097 955.1 C2094.4 966.6 2090.9 979.2 2087.8 989.6 C2084.8 999.9 2081.3 1008.3 2078.6 1017.2 C2076 1026 2073.6 1035.2 2071.7 1042.5 C2069.9 1049.7 2069.9 1049.8 2067.6 1060.5 C2065.3 1071.2 2061.1 1091.2 2057.9 1106.5 C2054.8 1121.8 2051.4 1138.7 2048.7 1152.5 C2046 1166.3 2044.1 1177.1 2041.8 1189.3 C2039.5 1201.6 2037.2 1213.9 2034.9 1226.1 C2032.6 1238.4 2029.9 1252.2 2028 1262.9 C2026.1 1273.7 2025 1280.2 2023.4 1290.5 C2021.9 1300.9 2020.2 1313.5 2018.8 1325.1 C2017.5 1336.6 2016.3 1349.8 2015.4 1359.6 C2014.4 1369.3 2013.3 1379.2 2013.1 1383.7 C2012.8 1388.2 2013.8 1386 2013.9 1386.5" fill="none" stroke="#ff00ff" stroke-width="10" stroke-linejoin="round" stroke-linecap="butt"/>
<path d="M1826 434 L1833 443" fill="none" stroke="#ff00ff" stroke-width="10" stroke-linejoin="round" stroke-linecap="round"/>
<path d="M1858 442 L1891 450 L1896 453 L1933.5 454.5 L1941 458" fill="none" stroke="#ff00ff" stroke-width="5" stroke-linejoin="round" stroke-linecap="butt"/>
<path d="M441.4 837.1 C441.3 835.3 441 830.4 440.8 826.4 C440.6 822.4 440.2 817.5 440 813.1 C439.8 808.7 439.8 804.2 439.7 799.8 C439.6 795.4 439.4 790.9 439.7 786.5 C440 782.1 440.3 779.9 441.3 773.2 C442.3 766.5 444.2 755.4 445.9 746.5 C447.6 737.6 449.9 728.8 451.7 719.9 C453.5 711 454.9 702.2 456.6 693.3 C458.4 684.4 460.5 675.5 462.2 666.6 C463.9 657.7 465.2 650 467 640 C468.8 630 470.9 616.4 472.7 606.4 C474.5 596.4 476.1 588.7 477.8 579.8 C479.5 570.9 480.9 562.1 482.6 553.2 C484.3 544.3 486.4 535.4 488.1 526.5 C489.8 517.6 491 508.8 492.7 499.9 C494.4 491 496.4 482.2 498.3 473.3 C500.2 464.4 502.2 456.2 504 446.6 C505.8 437.1 507.5 426.6 509.3 416 C511.1 405.4 513.1 393.1 514.9 383.2 C516.7 373.3 518.2 365.4 520 356.5 C521.8 347.6 523.9 337.7 525.5 329.9 C527.1 322.1 528.2 316.1 529.5 309.9 C530.8 303.7 531.9 296.8 533.3 292.6 C534.7 288.4 535.9 286.9 537.9 284.6 C539.9 282.3 542.8 280 545.3 278.6 C547.8 277.2 550.8 276.6 553.2 276.2 C555.6 275.8 557.7 275.7 559.9 276 C562.1 276.3 563.3 277 566.6 278.2 C569.9 279.4 573.5 281.3 579.9 283.3 C586.3 285.3 595.2 288.1 605.2 290 C615.2 291.9 630.7 293.8 639.8 295 C648.9 296.2 648.4 295.3 660 297.5 C671.6 299.7 696.9 304.5 709.6 308 C722.4 311.5 731.6 317.2 736.5 318.3 C741.4 319.4 736.3 315.2 739.2 314.3 C742.1 313.4 749.6 312.9 753.9 312.7 C758.1 312.5 760.2 312.1 764.7 313.2 C769.2 314.3 774.5 317.3 780.8 319.4 C787 321.5 788.8 323.1 802.2 325.8 C815.6 328.5 842.5 332.4 861.3 335.7 C880.1 339 904.6 343.5 914.9 345.8 C925.2 348.1 915.5 347.7 923 349.4 C930.5 351.1 944.6 352.9 960 355.8 C975.4 358.7 993.4 362.6 1015.2 366.7 C1036.9 370.9 1069.5 376.3 1090.3 380.5 C1111.2 384.7 1129.6 389.3 1140.5 391.8 C1151.3 394.3 1150.5 394.8 1155.5 395.6 C1160.5 396.3 1165.9 396.7 1170.5 396.1 C1175.1 395.4 1178.9 394.4 1183 391.8 C1187.2 389.2 1191 386.2 1195.6 380.5 C1200.2 374.9 1205.2 367.2 1210.6 358 C1216 348.8 1221.9 337.1 1228.1 325.4 C1234.4 313.7 1242.8 299.5 1248.2 287.8 C1253.6 276.1 1257 266.1 1260.7 255.2 C1264.5 244.4 1267.8 231 1270.7 222.7 C1273.7 214.3 1275.3 209.7 1278.3 205.1 C1281.2 200.5 1284.9 197.3 1288.3 195.1 C1291.6 192.9 1294.5 192.3 1298.3 191.8 C1302.1 191.4 1303.7 191.4 1310.8 192.6 C1317.9 193.8 1327.5 196.1 1340.9 198.9 C1354.3 201.6 1378.5 206.5 1391 208.9 C1403.5 211.3 1409.4 211.7 1416.1 213.1 C1422.8 214.6 1426.5 215.2 1431.1 217.7 C1435.7 220.1 1439.9 223.1 1443.6 227.7 C1447.4 232.3 1449.9 238.1 1453.7 245.2 C1457.4 252.3 1461.6 261.1 1466.2 270.3 C1470.8 279.5 1477.2 291.6 1481.2 300.3 C1485.2 309.1 1486.5 316 1490 322.7 C1493.6 329.3 1497.1 334.8 1502.6 340.2 C1508 345.6 1517.6 351.1 1522.6 355.2 C1527.6 359.4 1529.3 361.1 1532.6 365.3 C1536 369.4 1538.9 376.3 1542.6 380.3 C1546.4 384.3 1548.9 386.9 1555.2 389.1 C1561.4 391.2 1567.7 391 1580.2 393.3 C1592.8 395.6 1613.6 399.6 1630.3 402.8 C1647 406.1 1663.7 409.5 1680.5 412.9 C1697.2 416.2 1713.9 419.3 1730.6 422.9 C1747.3 426.4 1766.9 431 1780.7 434.2 C1794.5 437.3 1805.3 439.8 1813.2 441.7 C1821.2 443.6 1824.5 445.1 1828.3 445.4 C1832 445.7 1832 443.9 1835.8 443.4 C1839.6 443 1845 442 1850.8 442.9 C1856.7 443.9 1864.2 447.3 1870.9 449.2 C1877.6 451.1 1879.6 452.1 1890.9 454.2 C1902.2 456.3 1923.2 458.9 1938.5 461.7 C1953.8 464.6 1966.8 468.1 1982.8 471.4 C1998.7 474.7 2017 478.2 2034.2 481.7 C2051.3 485.1 2071.3 489.4 2085.5 491.9 C2099.8 494.5 2109.5 495.9 2119.8 497.1 C2130.1 498.3 2140.4 498.6 2147.2 499.1 C2154.1 499.7 2157.2 499.6 2160.9 500.5 C2164.6 501.4 2167.1 502.8 2169.5 504.8 C2171.8 506.8 2173.8 509.5 2175 512.5 C2176.2 515.5 2176.6 518.2 2176.7 522.8 C2176.8 527.3 2176.7 531.3 2175.5 539.9 C2174.3 548.5 2171.9 561.3 2169.5 574.2 C2167.1 587 2163.8 602.7 2160.9 617 C2158.1 631.3 2154.5 647.6 2152.4 659.8 C2150.2 672 2150.2 677.3 2148 690 C2145.8 702.7 2142.2 719.9 2139.2 736 C2136.3 752.1 2132.3 772.8 2130 786.6 C2127.7 800.4 2126.6 810.4 2125.4 818.8 C2124.3 827.3 2124.7 829.6 2123.1 837.2 C2121.6 844.9 2118.3 856.4 2116.2 864.8 C2114.1 873.3 2112.4 878.6 2110.5 887.8 C2108.6 897 2106.8 908.9 2104.7 920 C2102.6 931.2 2100.5 943 2097.8 954.6 C2095.2 966.1 2091.7 978.7 2088.6 989.1 C2085.6 999.4 2082.1 1007.8 2079.4 1016.7 C2076.8 1025.5 2074.4 1034.7 2072.5 1042 C2070.7 1049.2 2070.7 1049.3 2068.4 1060 C2066.1 1070.7 2061.9 1090.7 2058.7 1106 C2055.6 1121.3 2052.2 1138.2 2049.5 1152 C2046.8 1165.8 2044.9 1176.6 2042.6 1188.8 C2040.3 1201.1 2038 1213.4 2035.7 1225.6 C2033.4 1237.9 2030.7 1251.7 2028.8 1262.4 C2026.9 1273.2 2025.8 1279.7 2024.2 1290 C2022.7 1300.4 2021 1313 2019.6 1324.6 C2018.3 1336.1 2017.1 1349.3 2016.2 1359.1 C2015.2 1368.8 2014.3 1379.2 2013.9 1383.2" fill="none" stroke="#00ff00" stroke-width="10" stroke-linejoin="round" stroke-linecap="butt"/>
</g>
<g id="ticklabels">
<text x="244" y="1556.8" font-size="60" text-anchor="middle" fill="#262626" font-weight="normal">-100</text>
<text x="439" y="1556.8" font-size="60" text-anchor="middle" fill="#262626" font-weight="normal">0</text>
<text x="636.4" y="1556.8" font-size="60" text-anchor="middle" fill="#262626" font-weight="normal">100</text>
<text x="830.9" y="1556.8" font-size="60" text-anchor="middle" fill="#262626" font-weight="normal">200</text>
<text x="1026.2" y="1556.8" font-size="60" text-anchor="middle" fill="#262626" font-weight="normal">300</text>
<text x="1221.5" y="1556.8" font-size="60" text-anchor="middle" fill="#262626" font-weight="normal">400</text>
<text x="1416.9" y="1556.8" font-size="60" text-anchor="middle" fill="#262626" font-weight="normal">500</text>
<text x="1612.2" y="1556.8" font-size="60" text-anchor="middle" fill="#262626" font-weight="normal">600</text>
<text x="1807.5" y="1556.8" font-size="60" text-anchor="middle" fill="#262626" font-weight="normal">700</text>
<text x="2002.9" y="1556.8" font-size="60" text-anchor="middle" fill="#262626" font-weight="normal">800</text>
<text x="2198.2" y="1556.8" font-size="60" text-anchor="middle" fill="#262626" font-weight="normal">900</text>
<text x="220.3" y="1494.9" font-size="60" text-anchor="end" fill="#262626" font-weight="normal">-400</text>
<text x="220.3" y="1336.1" font-size="60" text-anchor="end" fill="#262626" font-weight="normal">-300</text>
<text x="220.3" y="1177.2" font-size="60" text-anchor="end" fill="#262626" font-weight="normal">-200</text>
<text x="220.3" y="1018.4" font-size="60" text-anchor="end" fill="#262626" font-weight="normal">-100</text>
<text x="220.3" y="859.5" font-size="60" text-anchor="end" fill="#262626" font-weight="normal">0</text>
<text x="220.3" y="700.7" font-size="60" text-anchor="end" fill="#262626" font-weight="normal">100</text>
<text x="220.3" y="541.8" font-size="60" text-anchor="end" fill="#262626" font-weight="normal">200</text>
<text x="220.3" y="383" font-size="60" text-anchor="end" fill="#262626" font-weight="normal">300</text>
<text x="220.3" y="224.1" font-size="60" text-anchor="end" fill="#262626" font-weight="normal">400</text>
<text x="220.3" y="65.3" font-size="60" text-anchor="end" fill="#262626" font-weight="normal">500</text>
</g>
<text x="1222" y="1644.3" font-size="66" text-anchor="middle" fill="#262626" font-weight="normal">East(m)</text>
<text x="0" y="0" font-size="66" text-anchor="middle" fill="#262626" font-weight="normal" transform="translate(65.5 757.9) rotate(-90)">North(m)</text>
<g id="insets">
<rect x="929.9" y="61.0" width="318.0" height="213.8" fill="#fff"/>
<rect x="929.9" y="61" width="318" height="213.8" fill="none" stroke="#262626" stroke-width="4"/>
<clipPath id="cu"><rect x="927.5" y="50" width="320.9" height="240"/></clipPath>
<g clip-path="url(#cu)">
<path d="M925.1 145.2 L931.7 146.1 L1117.1 167.8 L1133.8 166.6 L1167.2 164.9 L1200.7 163.6 L1250.8 163.3" fill="none" stroke="#00ffff" stroke-width="10" stroke-linejoin="round" stroke-linecap="butt"/>
<path d="M925.1 169.4 L1100.4 192 L1117.1 191.5 L1183.9 185.6 L1250.8 185.6" fill="none" stroke="#0000ff" stroke-width="10" stroke-linejoin="round" stroke-linecap="butt"/>
<path d="M925.1 148.9 L931.7 149.9 L1112.1 175 L1122.1 173.6 L1133.8 170.6 L1157.2 165.6 L1183.9 164.3 L1250.8 163.9" fill="none" stroke="#222222" stroke-width="10" stroke-linejoin="round" stroke-linecap="butt"/>
<path d="M925.1 178 L1085.4 214.5 L1092.1 215.4 L1117.1 214.5 L1183.9 211.2 L1217.4 210.9 L1250.8 213" fill="none" stroke="#ff0000" stroke-width="10" stroke-linejoin="round" stroke-linecap="butt"/>
<path d="M925.1 165.3 L931.7 166.1 L1088.7 187 L1108.8 189.2 L1117.1 189.2 L1167.2 183.6 L1200.7 181.5 L1250.8 181.1" fill="none" stroke="#ff00ff" stroke-width="10" stroke-linejoin="round" stroke-linecap="butt"/>
<path d="M925.1 144.9 L931.7 146.6 L1111.3 191.2 L1128 166.1 L1250.8 165.6" fill="none" stroke="#00ff00" stroke-width="10" stroke-linejoin="miter" stroke-linecap="butt"/>
</g>
<rect x="915" y="81.4" width="17.2" height="88.2" fill="#fff"/>
<polygon points="925,148.3 927.8,148.3 927.8,155.3 926.8,155.3" fill="#000"/>
<rect x="535.0" y="449.9" width="376.9" height="255.4" fill="#fff"/>
<rect x="535" y="449.9" width="376.9" height="255.4" fill="none" stroke="#262626" stroke-width="4"/>
<clipPath id="cl"><rect x="533.0" y="447.9" width="382.4" height="259.4"/></clipPath>
<g clip-path="url(#cl)">
<path d="M538.9 709.7 C540.3 703.5 544.4 682.4 547.3 672.4 C550.3 662.5 553.1 656.6 556.6 649.8 C560.2 643 564 639.6 568.6 631.8 C573.3 624.1 579.5 610.9 584.6 603.2 C589.7 595.5 594.1 591.4 599.3 585.9 C604.4 580.3 609 575.5 615.2 569.9 C621.4 564.4 628.5 558.1 636.5 552.6 C644.5 547 655.2 540.9 663.2 536.6 C671.2 532.3 677.8 529.5 684.5 526.6 C691.1 523.8 696.7 521.6 703.1 519.6 C709.6 517.6 718.1 515.8 723.1 514.6 C728.1 513.5 727.2 513 733.3 512.8 C739.5 512.5 752.2 513 760 513 C767.7 513.1 774.2 512.7 779.9 513 C785.7 513.3 789 513.8 794.6 514.9 C800.1 516 803.5 516.7 813.2 519.4 C823 522.1 836.5 526.3 853.2 531.3 C869.8 536.3 903.1 546.5 913.1 549.5" fill="none" stroke="#00ffff" stroke-width="10" stroke-linejoin="round" stroke-linecap="butt"/>
<path d="M550 711.1 C551.1 706.6 554 692 556.6 684.4 C559.3 676.9 562.7 671.3 566 665.8 C569.2 660.2 572.3 656 575.9 651.1 C579.6 646.3 583.7 641.2 587.9 636.5 C592.1 631.8 596.4 627.5 601.2 623.2 C606.1 618.8 611.9 614.6 617.2 610.5 C622.6 606.5 627.4 602.6 633.2 598.9 C639 595.3 645.4 591.6 651.9 588.5 C658.3 585.5 665.5 582.6 671.8 580.6 C678.2 578.6 683.5 577.9 689.8 576.6 C696.1 575.3 703.1 573.7 709.8 572.8 C716.4 571.9 725.4 571.2 729.8 571.2 C734.1 571.2 730.9 572.4 736 572.8 C741 573.3 753.3 573.6 760 573.9 C766.6 574.2 769.3 573.4 775.9 574.8 C782.6 576.3 791.5 579.9 799.9 582.5 C808.3 585.2 817.7 587.9 826.5 590.5 C835.4 593.2 844.3 596 853.2 598.5 C862.1 601.1 869.8 603.3 879.8 605.8 C889.8 608.4 907.6 612.5 913.1 613.8" fill="none" stroke="#0000ff" stroke-width="10" stroke-linejoin="round" stroke-linecap="butt"/>
<path d="M540.7 709.7 C542.2 706 547.2 693.8 550 687.1 C552.8 680.4 555.4 675.1 557.3 669.8 C559.2 664.5 559.9 661.1 561.3 655.1 C562.7 649.1 563.8 640.5 566 633.8 C568.1 627.2 571.1 621.2 573.9 615.2 C576.8 609.2 580.9 601.7 583.3 597.9 C585.6 594 583 597.4 588.1 592 C593.1 586.6 606.1 572.6 613.4 565.4 C620.6 558.1 625.1 553.8 631.6 548.6 C638.1 543.4 644.5 538.6 652.3 534.3 C660 530.1 670.5 526.3 678.1 523.3 C685.6 520.3 691.5 517.8 697.5 516.1 C703.6 514.4 709.1 514.3 714.4 512.9 C719.8 511.5 725.5 508.7 729.8 507.6 C734 506.5 734.9 506.3 740 506.2 C745 506.2 752.6 507.2 760 507.3 C767.3 507.4 777.5 505.8 783.9 507 C790.4 508.3 789.3 511.5 798.6 514.9 C807.9 518.3 826.3 523.3 839.9 527.4 C853.4 531.5 867.5 535.9 879.8 539.7 C892.1 543.5 908.1 548.4 913.8 550.2" fill="none" stroke="#222222" stroke-width="10" stroke-linejoin="round" stroke-linecap="butt"/>
<path d="M552 711.1 C553.9 706.4 559.6 690.4 563.3 683.1 C567 675.8 570.2 672 573.9 667.1 C577.7 662.2 581.7 658.2 585.9 653.8 C590.2 649.4 594.4 644.9 599.3 640.5 C604.1 636 609.9 631.2 615.2 627.2 C620.6 623.2 625.4 619.8 631.2 616.5 C637 613.2 643.4 610 649.9 607.2 C656.3 604.4 663.2 601.9 669.8 599.9 C676.5 597.9 683.1 596.5 689.8 595.2 C696.5 593.9 703.1 592.6 709.8 591.9 C716.4 591.2 725.4 591.1 729.8 590.9 C734.1 590.8 732.1 590.9 736 591.2 C739.9 591.5 748.4 592.2 753.3 592.5 C758.2 592.9 761.5 592.6 765.3 593.2 C769.1 593.8 770.2 594.2 775.9 595.9 C781.7 597.5 791.5 600.6 799.9 603.2 C808.3 605.7 817.7 608.4 826.5 611.2 C835.4 614 844.3 617.1 853.2 619.8 C862.1 622.6 869.8 625.4 879.8 627.8 C889.8 630.3 907.6 633.4 913.1 634.5" fill="none" stroke="#ff0000" stroke-width="10" stroke-linejoin="round" stroke-linecap="butt"/>
<path d="M550 711.1 C550.9 706.4 552.9 691.1 555.3 683.1 C557.7 675.1 561.5 668.9 564.6 663.1 C567.7 657.4 570.4 653.4 573.9 648.5 C577.5 643.6 581.7 638.5 585.9 633.8 C590.2 629.2 594.4 624.9 599.3 620.5 C604.1 616.1 609.9 611.4 615.2 607.2 C620.6 603 625.4 599 631.2 595.2 C637 591.4 643.4 587.7 649.9 584.6 C656.3 581.4 663.2 578.8 669.8 576.6 C676.5 574.3 683.1 572.8 689.8 571.2 C696.5 569.7 703.1 568.3 709.8 567.2 C716.4 566.2 725.8 565.3 729.8 565 C733.7 564.6 730.5 565.1 733.3 565.2 C736.1 565.3 741.8 565.4 746.6 565.6 C751.5 565.9 757.7 566.3 762.6 566.6 C767.5 566.8 769.7 565.8 775.9 567.2 C782.1 568.7 791.5 572.6 799.9 575.2 C808.3 577.9 817.7 580.5 826.5 583.2 C835.4 585.9 844.3 588.5 853.2 591.2 C862.1 593.9 869.8 596.5 879.8 599.2 C889.8 601.9 907.6 605.8 913.1 607.2" fill="none" stroke="#ff00ff" stroke-width="10" stroke-linejoin="round" stroke-linecap="butt"/>
<path d="M544.9 709.7 L546.6 683.1 L551.3 661.8 L556.6 649.8 L560.9 645.1 L565.3 639.2 L570 632.5 L575.9 624.5 L578.2 615.2 L582.6 608.5 L589.9 599.2 L592.9 591.2 L599.3 583.2 L605.9 576.6 L609.9 571.5 L613.9 579 L623.2 569.9 L631.2 559.3 L636.5 551.3 L642.9 546.6 L645.2 551 L655.2 545.9 L661.8 535.9 L667.8 532.3 L670.5 537.5 L679.2 533.9 L680.8 526 L689.8 520.9 L697.8 520 L705.8 523.6 L716.4 520.6 L717.8 512.4 L727.1 508.6 L724 509.6 L746.6 510 L763.9 511.4 L773.3 510 L786.6 510 L793 512.6 L794.6 522.6 L806.6 526.6 L826.5 533.9 L843.9 540.6 L853.2 538.6 L865.2 540.6 L870.5 537.9 L878.5 539.9 L881.1 551.9 L891.8 555.2 L898.5 553.9 L903.8 555.2 L913.1 552.6" fill="none" stroke="#00ff00" stroke-width="10" stroke-linejoin="round" stroke-linecap="butt"/>
</g>
<rect x="1323.1" y="630.9" width="485.0" height="310.0" fill="#fff"/>
<rect x="1323.1" y="630.9" width="485" height="310" fill="none" stroke="#262626" stroke-width="4"/>
<clipPath id="cr"><rect x="1321.1" y="630.9" width="489.0" height="310.0"/></clipPath>
<g clip-path="url(#cr)">
<path d="M1320 763.6 L1422.8 782.8 L1477.9 793 L1515.5 800.3 L1590 811 L1600.1 812.9 L1665.3 826.4 L1740.5 839 L1810.6 848.7" fill="none" stroke="#00ffff" stroke-width="10" stroke-linejoin="round" stroke-linecap="butt"/>
<path d="M1320 775.5 L1474.1 804.1 L1385.2 695.7 L1396.4 697.6 L1414 721.4 L1445.9 755.8 L1450.9 759 L1452.8 766.5 L1460.3 769.2 L1488.5 774.3 L1490.4 780.5 L1518.6 784.3 L1521.7 789.7 L1531.7 794.7 L1539.3 802.2 L1551.8 800.8 L1585.6 803.4 L1590 805.3 L1650.2 817.3 L1691 824.2 L1693.5 818.7 L1697.9 816.7 L1715.4 819.2 L1810.6 839.6" fill="none" stroke="#0000ff" stroke-width="10" stroke-linejoin="round" stroke-linecap="butt"/>
<path d="M1320 781.1 L1451.6 806.6 L1440.3 789.7 L1362.6 681.5 L1378.3 681 L1397.7 702.6 L1435.3 752.7 L1451.6 769.2 L1460.3 770.9 L1472.9 782.1 L1477.9 780.5 L1497.9 783.4 L1502.9 789 L1523 790.9 L1528 795.3 L1530.5 804.1 L1548 809.1 L1566.8 821.6 L1579.4 807.8 L1590 808.5 L1597.6 809.2 L1627.7 832.1 L1645.2 834 L1650.2 822.1 L1690.3 824.2 L1702.9 836.2 L1725.4 837.7 L1729.8 822.7 L1730.4 808.3 L1746.7 809.2 L1769.3 822.9 L1810.6 828.7" fill="none" stroke="#222222" stroke-width="10" stroke-linejoin="round" stroke-linecap="butt"/>
<path d="M1318 798.3 L1553.6 833.4 L1812 872.2" fill="none" stroke="#ff0000" stroke-width="10" stroke-linejoin="round" stroke-linecap="butt"/>
<path d="M1320 775 L1474.1 802.8 L1409 727.7 L1424 727 L1450.3 770.2 L1457.2 777.8 L1467.9 779 L1471.6 785.3 L1477.9 789 L1497.9 790.3 L1501.7 794.7 L1520.5 795.6 L1522 804.1 L1528 807.8 L1541.8 819.7 L1559.3 821.6 L1585.6 821.9 L1590 825.4 L1602.6 826.4 L1639 825.4 L1665.3 834 L1701.6 836.5 L1697.9 821.7 L1810.6 844.2" fill="none" stroke="#ff00ff" stroke-width="10" stroke-linejoin="round" stroke-linecap="butt"/>
<path d="M1320 805.6 L1461.6 834.8 L1486.6 813.8 L1510.5 814.7 L1523 816 L1535.5 814.7 L1560.6 814.1 L1590 815 L1627.7 814.5 L1644 815.2 L1645.9 827.7 L1660.3 830.8 L1677.8 829.6 L1702.9 829 L1727.9 829.6 L1730.4 841.5 L1745.5 845.2 L1755.5 842.7 L1810.6 851.3" fill="none" stroke="#00ff00" stroke-width="10" stroke-linejoin="round" stroke-linecap="butt"/>
</g>
</g>
<g id="annotations">
<path d="M511 330.6 L511 238.9 L607 238.9 L607 330.6 L511 330.6" fill="none" stroke="#000" stroke-width="3.8" stroke-dasharray="36.4 20.2" stroke-linejoin="miter"/>
<path d="M710.1 369.5 L710.1 277 L804.9 277 L804.9 369.5 L710.1 369.5" fill="none" stroke="#000" stroke-width="3.8" stroke-dasharray="36.4 20.2" stroke-linejoin="miter"/>
<path d="M1789 488.2 L1789 393 L1891 393 L1891 488.2 L1789 488.2" fill="none" stroke="#000" stroke-width="3.8" stroke-dasharray="36.4 20.2" stroke-linejoin="miter"/>
<line x1="582.5" y1="327" x2="648.9" y2="412.2" stroke="#000" stroke-width="4.4" stroke-linecap="butt"/>
<polygon points="674.1,444.6 619.1,411.4 647.7,410.6 655.4,383.1" fill="#000" stroke="#000" stroke-width="2.4" stroke-linejoin="round"/>
<line x1="808.8" y1="275" x2="895.6" y2="198.8" stroke="#000" stroke-width="4.4" stroke-linecap="butt"/>
<polygon points="926.4,171.7 896.5,228.6 894.1,200.1 866.1,194" fill="#000" stroke="#000" stroke-width="2.4" stroke-linejoin="round"/>
<line x1="1788.2" y1="506" x2="1755.7" y2="577.1" stroke="#000" stroke-width="4.4" stroke-linecap="butt"/>
<polygon points="1738.7,614.4 1742.7,550.3 1756.6,575.3 1784.6,569.4" fill="#000" stroke="#000" stroke-width="2.4" stroke-linejoin="round"/>
<text x="527" y="177.3" font-size="71.8" text-anchor="start" fill="#ff0000" font-weight="bold">Outage #2</text>
<text x="1753.3" y="346.8" font-size="71.5" text-anchor="start" fill="#ff0000" font-weight="bold">Outage #3</text>
</g>
<g id="legend">
<rect x="331.1" y="963" width="495.9" height="455.6" fill="#fff" stroke="#262626" stroke-width="4"/>
<line x1="348.8" y1="1007.3" x2="528" y2="1007.3" stroke="#00ffff" stroke-width="9.8" stroke-linecap="butt"/>
<text x="539.8" y="1028.8" font-size="52.6" text-anchor="start" fill="#000" font-weight="normal" letter-spacing="0.5">Reference</text>
<line x1="348.8" y1="1080.8" x2="528" y2="1080.8" stroke="#0000ff" stroke-width="9.8" stroke-linecap="butt"/>
<text x="539.8" y="1102.1" font-size="52.6" text-anchor="start" fill="#000" font-weight="normal" letter-spacing="0.5">CKF</text>
<line x1="348.8" y1="1154.4" x2="528" y2="1154.4" stroke="#222222" stroke-width="9.8" stroke-linecap="butt"/>
<text x="539.8" y="1175.5" font-size="52.6" text-anchor="start" fill="#000" font-weight="normal" letter-spacing="0.5">RCKF</text>
<line x1="348.8" y1="1227.9" x2="528" y2="1227.9" stroke="#ff0000" stroke-width="9.8" stroke-linecap="butt"/>
<text x="539.8" y="1248.8" font-size="52.6" text-anchor="start" fill="#000" font-weight="normal" letter-spacing="0.5">MCCKF</text>
<line x1="348.8" y1="1301.5" x2="528" y2="1301.5" stroke="#ff00ff" stroke-width="9.8" stroke-linecap="butt"/>
<text x="539.8" y="1322.2" font-size="52.6" text-anchor="start" fill="#000" font-weight="normal" letter-spacing="0.5">VBCKF</text>
<line x1="348.8" y1="1375" x2="528" y2="1375" stroke="#00ff00" stroke-width="9.8" stroke-linecap="butt"/>
<text x="539.8" y="1395.5" font-size="52.6" text-anchor="start" fill="#000" font-weight="normal" letter-spacing="0.5">ROCRCKF</text>
</g>
</svg></body></html>
